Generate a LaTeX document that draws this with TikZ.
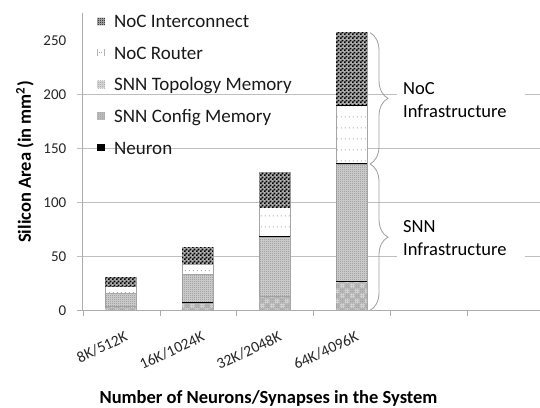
\documentclass[tikz,border=0pt]{standalone}
\usepackage{fontspec}
\setmainfont{Carlito}
\usetikzlibrary{patterns,decorations.pathreplacing}

% fill patterns for the stacked segments
\pgfdeclarepatternformonly{chkcoarse}{\pgfpointorigin}{\pgfqpoint{4bp}{4bp}}{\pgfqpoint{4bp}{4bp}}{%
  \pgfpathrectangle{\pgfpointorigin}{\pgfqpoint{2bp}{2bp}}%
  \pgfpathrectangle{\pgfqpoint{2bp}{2bp}}{\pgfqpoint{2bp}{2bp}}%
  \pgfusepath{fill}}
\pgfdeclarepatternformonly{chkfine}{\pgfpointorigin}{\pgfqpoint{2bp}{2bp}}{\pgfqpoint{2bp}{2bp}}{%
  \pgfpathrectangle{\pgfpointorigin}{\pgfqpoint{1bp}{1bp}}%
  \pgfpathrectangle{\pgfqpoint{1bp}{1bp}}{\pgfqpoint{1bp}{1bp}}%
  \pgfusepath{fill}}
\pgfdeclarepatternformonly{blocks}{\pgfpointorigin}{\pgfqpoint{10bp}{10bp}}{\pgfqpoint{10bp}{10bp}}{%
  \pgfpathrectangle{\pgfpointorigin}{\pgfqpoint{5bp}{5bp}}%
  \pgfpathrectangle{\pgfqpoint{5bp}{5bp}}{\pgfqpoint{5bp}{5bp}}%
  \pgfusepath{fill}}
\pgfdeclarepatternformonly{dotrows}{\pgfpointorigin}{\pgfqpoint{4bp}{11bp}}{\pgfqpoint{4bp}{11bp}}{%
  \pgfpathrectangle{\pgfqpoint{1bp}{5bp}}{\pgfqpoint{1bp}{1bp}}%
  \pgfusepath{fill}}

\begin{document}
\begin{tikzpicture}[x=1bp,y=-1bp,
  axisline/.style={draw=gray!65, line width=0.8bp},
  gridline/.style={draw=gray!50, line width=0.8bp},
  ticklab/.style={font=\fontsize{15bp}{17bp}\selectfont, text=black!85, inner sep=0pt},
  catlab/.style={font=\fontsize{15.5bp}{17bp}\selectfont, text=black!85, inner sep=0pt, rotate=25, anchor=north east},
  legtext/.style={font=\fontsize{19bp}{21bp}\selectfont, text=black!90, inner sep=0pt, anchor=base west},
  axtitle/.style={font=\fontsize{18.5bp}{20bp}\selectfont\bfseries, inner sep=0pt},
  infra/.style={font=\fontsize{18.5bp}{23bp}\selectfont, fill=white, align=left, text width=116bp, inner xsep=6bp, inner ysep=3bp, anchor=west},
  segedge/.style={draw=gray!70, line width=0.6bp},
  inter/.style={segedge, fill=gray!65, postaction={pattern=chkcoarse, pattern color=black}},
  router/.style={segedge, fill=white, postaction={pattern=dotrows, pattern color=gray!90}},
  topo/.style={segedge, fill=gray!35, postaction={pattern=chkfine, pattern color=gray!90}},
  config/.style={segedge, fill=gray!55, postaction={pattern=blocks, pattern color=gray!30},
                 postaction={pattern=chkfine, pattern color=gray!75}},
  sepline/.style={draw=black, line width=1bp},
  bracket/.style={draw=gray!75, line width=0.8bp, decorate, decoration={brace, amplitude=18bp}},
]
\fill[white] (0,0) rectangle (540,407);
\useasboundingbox (0,0) rectangle (540,407);

% value scale: 0 at y=310.3, 1.08 per unit
\begin{scope}[shift={(0,310.3)}, y=1.08bp]
  \foreach \v in {50,100,150,200}
    \draw[gridline] (77,\v) -- (540,\v);

  % 8K/512K
  \path[config] (105,0)    rectangle (136,3.4);
  \path[topo]   (105,3.4)  rectangle (136,15.7);
  \path[router] (105,15.7) rectangle (136,21.8);
  \path[inter]  (105,21.8) rectangle (136,30.2);
  % 16K/1024K
  \path[config] (182,0)    rectangle (213,6.8);
  \path[topo]   (182,6.8)  rectangle (213,33.5);
  \path[router] (182,33.5) rectangle (213,43);
  \path[inter]  (182,43)   rectangle (213,58.6);
  \draw[sepline] (182,6.8) -- (213,6.8);
  % 32K/2048K
  \path[config] (259,0)    rectangle (290,13);
  \path[topo]   (259,13)   rectangle (290,68);
  \path[router] (259,68)   rectangle (290,95);
  \path[inter]  (259,95)   rectangle (290,128);
  \draw[sepline] (259,68) -- (290,68);
  % 64K/4096K
  \path[config] (336,0)     rectangle (367,27);
  \path[topo]   (336,27)    rectangle (367,135.5);
  \path[router] (336,135.5) rectangle (367,189.5);
  \path[inter]  (336,189.5) rectangle (367,257);
  \draw[sepline] (336,27) -- (367,27);
  \draw[sepline] (336,135.5) -- (367,135.5);
  \draw[sepline] (336,189.5) -- (367,189.5);

  \coordinate (noctop) at (370,257);
  \coordinate (nocbot) at (370,135.5);
  \coordinate (snnbot) at (370,0);

  \foreach \v in {0,50,...,250}
    \node[ticklab, anchor=east] (ylab\v) at (66.5,\v) {\v};
\end{scope}

% axes
\draw[axisline] (82,13) -- (82,310.3);
\draw[axisline] (77,310.3) -- (540,310.3);
\foreach \k in {0,...,5}
  \draw[axisline] (83+76.9*\k,310.3) -- (83+76.9*\k,316);

% category labels
\node[catlab] (cat1) at (124,330.5) {8K/512K};
\node[catlab] (cat2) at (201,330.5) {16K/1024K};
\node[catlab] (cat3) at (278,330.5) {32K/2048K};
\node[catlab] (cat4) at (355,330.5) {64K/4096K};

% axis titles
\node[axtitle, rotate=90] (ytitle) at (25,162) {Silicon Area (in mm\textsuperscript{2})};
\node[axtitle, anchor=base] (xtitle) at (268.5,403) {Number of Neurons/Synapses in the System};

% legend
\fill[gray!60] (97,17.5) rectangle (105,25);
\fill[pattern=chkfine, pattern color=black] (97,17.5) rectangle (105,25);
\node[legtext] (leg1) at (114,27.5) {NoC Interconnect};
\draw[gray!60, line width=0.6bp] (97.5,49) -- (97.5,56) (104.5,49) -- (104.5,56);
\draw[gray!70, line width=0.8bp, dotted] (98.5,52.5) -- (103.5,52.5);
\node[legtext] (leg2) at (114,59) {NoC Router};
\fill[gray!30] (97,80.5) rectangle (105,88);
\fill[pattern=chkfine, pattern color=gray!75] (97,80.5) rectangle (105,88);
\node[legtext] (leg3) at (114,90.5) {SNN Topology Memory};
\fill[gray!50] (97,112) rectangle (105,119.5);
\fill[pattern=chkfine, pattern color=gray!80] (97,112) rectangle (105,119.5);
\node[legtext] (leg4) at (114,122) {SNN Config Memory};
\fill[black] (97,143.5) rectangle (105,151);
\node[legtext] (leg5) at (114,154) {Neuron};

% braces and their labels
\draw[bracket] (noctop) -- (nocbot);
\draw[bracket] (nocbot) -- (snnbot);
\node[infra] (noclab) at (397,100.5) {NoC\\Infrastructure};
\node[infra] (snnlab) at (397,238) {SNN\\Infrastructure};
\end{tikzpicture}
\end{document}
